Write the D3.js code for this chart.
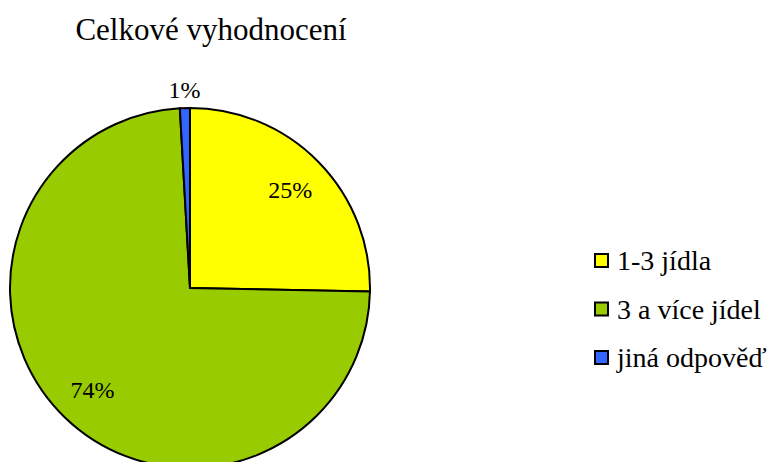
<!DOCTYPE html>
<html lang="cs">
<head>
  <meta charset="UTF-8">
  <title>Celkové vyhodnocení</title>
  <script src="https://cdn.jsdelivr.net/npm/d3@7"></script>
  <style>
    body { margin: 0; background: #fff; }
    text { font-family: "Liberation Serif", "Times New Roman", "DejaVu Serif", serif; fill: #000; }
  </style>
</head>
<body>
  <svg id="chart" width="775" height="462"></svg>
  <script>
    var categories = ['1-3 jídla', '3 a více jídel', 'jiná odpověď'];
    var values = [25.3, 73.8, 0.9];
    var labels = ['25%', '74%', '1%'];
    var colors = ['#FFFF00', '#99CC00', '#3366FF'];

    var svg = d3.select('#chart');
    var cx = 190, cy = 288, radius = 180;

    svg.append('text')
      .attr('x', 211)
      .attr('y', 40)
      .attr('text-anchor', 'middle')
      .style('font-size', '31px')
      .text('Celkové vyhodnocení');

    var data = categories.map(function (c, i) {
      return { name: c, value: values[i], label: labels[i], color: colors[i] };
    });

    var pie = d3.pie().sort(null).value(function (d) { return d.value; });
    var arc = d3.arc().innerRadius(0).outerRadius(radius);
    var labelArc = d3.arc().innerRadius(radius * 0.78).outerRadius(radius * 0.78);
    var outArc = d3.arc().innerRadius(radius * 1.1).outerRadius(radius * 1.1);

    var g = svg.append('g').attr('transform', 'translate(' + cx + ',' + cy + ')');
    var arcs = pie(data);

    g.selectAll('path')
      .data(arcs)
      .enter().append('path')
      .attr('d', arc)
      .attr('fill', function (d) { return d.data.color; })
      .attr('stroke', '#000')
      .attr('stroke-width', 2)
      .attr('stroke-linejoin', 'miter');

    g.selectAll('text.lbl')
      .data(arcs)
      .enter().append('text')
      .attr('class', 'lbl')
      .attr('transform', function (d) {
        var p = (d.endAngle - d.startAngle) < 0.1 ? outArc.centroid(d) : labelArc.centroid(d);
        return 'translate(' + p[0] + ',' + p[1] + ')';
      })
      .attr('dy', '0.35em')
      .attr('text-anchor', 'middle')
      .style('font-size', '24px')
      .text(function (d) { return d.data.label; });

    var legend = svg.append('g').attr('transform', 'translate(594,253)');
    var rows = legend.selectAll('g')
      .data(data)
      .enter().append('g')
      .attr('transform', function (d, i) { return 'translate(0,' + (i * 48.5) + ')'; });

    rows.append('rect')
      .attr('x', 1).attr('y', 1)
      .attr('width', 13).attr('height', 13)
      .attr('fill', function (d) { return d.color; })
      .attr('stroke', '#000')
      .attr('stroke-width', 2);

    rows.append('text')
      .attr('x', 23)
      .attr('y', 17)
      .style('font-size', '28px')
      .text(function (d) { return d.name; });
  </script>
</body>
</html>
